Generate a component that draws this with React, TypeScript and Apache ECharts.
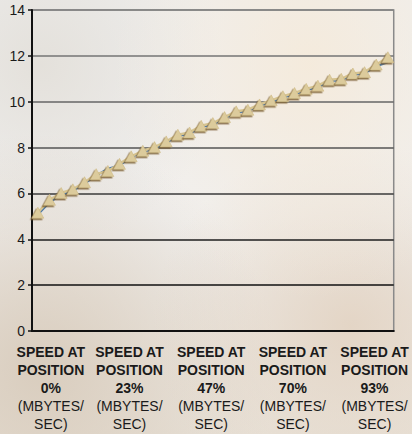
import React, { useEffect, useRef } from "react";
import * as echarts from "echarts";

const positions: string[] = [
  "0%", "3%", "7%", "10%", "13%", "17%", "20%", "23%", "27%", "30%", "33%",
  "37%", "40%", "43%", "47%", "50%", "53%", "57%", "60%", "63%", "67%",
  "70%", "73%", "77%", "80%", "83%", "87%", "90%", "93%", "97%", "100%",
];

const speedTan: number[] = [
  5.16, 5.72, 6.02, 6.18, 6.49, 6.84, 6.98, 7.29, 7.62, 7.86, 8.02,
  8.27, 8.56, 8.66, 8.95, 9.07, 9.33, 9.58, 9.65, 9.88, 10.06,
  10.24, 10.38, 10.56, 10.7, 10.96, 11.0, 11.23, 11.29, 11.62, 11.94,
];

const speedBlue: number[] = [
  5.08, 5.6, 5.96, 6.12, 6.42, 6.78, 7.08, 7.22, 7.58, 7.8, 7.96,
  8.2, 8.5, 8.6, 8.9, 9.0, 9.28, 9.52, 9.6, 9.82, 10.0,
  10.18, 10.32, 10.5, 10.64, 10.9, 10.94, 11.16, 11.24, 11.54, 11.72,
];

const yTicks = { min: 0, max: 14, interval: 2 };

const FONT = "Liberation Sans, Arial, sans-serif";

export default function App() {
  const ref = useRef<HTMLDivElement>(null);
  useEffect(() => {
    if (!ref.current) return;
    const chart = echarts.init(ref.current, null, { renderer: "svg" });
    const bold = { fontWeight: "bold", fontSize: 14, lineHeight: 18, color: "#1a1a1a", fontFamily: FONT };
    const norm = { fontSize: 14, lineHeight: 18, color: "#1a1a1a", fontFamily: FONT };
    chart.setOption({
      animation: false,
      textStyle: { fontFamily: FONT },
      grid: {
        left: 32,
        right: 15,
        top: 10,
        bottom: 103,
        show: true,
        borderColor: "#8a8a8a",
        borderWidth: 1.5,
        backgroundColor: "transparent",
      },
      xAxis: {
        type: "category",
        data: positions,
        boundaryGap: true,
        axisLine: { lineStyle: { color: "#111", width: 2 } },
        axisTick: { interval: 0, length: 4, lineStyle: { color: "#111", width: 1.5 } },
        axisLabel: {
          interval: 6,
          margin: 12,
          padding: [0, 0, 0, 20],
          color: "#1a1a1a",
          formatter: (v: string, idx: number) => {
            const b = idx === 0 ? "b0" : "b";
            const n = idx === 0 ? "n0" : "n";
            return `{${b}|SPEED AT}\n{${b}|POSITION}\n{${b}|${v}}\n{${n}|(MBYTES/}\n{${n}|SEC)}`;
          },
          rich: {
            b: bold,
            n: norm,
            b0: { ...bold, padding: [0, 0, 0, 6] },
            n0: { ...norm, padding: [0, 0, 0, 6] },
          },
        },
        splitLine: { show: false },
      },
      yAxis: {
        type: "value",
        min: yTicks.min,
        max: yTicks.max,
        interval: yTicks.interval,
        axisLine: { show: true, lineStyle: { color: "#111", width: 2 } },
        axisTick: { show: true, length: 4, lineStyle: { color: "#111", width: 1.5 } },
        axisLabel: { fontSize: 14, color: "#1a1a1a", margin: 7 },
        splitLine: {
          show: true,
          lineStyle: {
            width: 1.5,
            color: ["#111", "#111", "#1e1e1e", "#3a3a3a", "#555", "#666", "#747474", "#808080"],
          },
        },
      },
      series: [
        {
          type: "line",
          data: speedBlue,
          symbol: "none",
          lineStyle: { color: "#4a78a8", width: 2 },
          z: 2,
        },
        {
          type: "line",
          data: speedTan,
          symbol: "triangle",
          showSymbol: true,
          showAllSymbol: true,
          symbolSize: [12, 11],
          lineStyle: { color: "#d6c492", width: 2.5 },
          itemStyle: {
            color: "#dccb9c",
            borderColor: "#c9b27a",
            borderWidth: 0.5,
            shadowColor: "rgba(115,85,40,0.85)",
            shadowOffsetX: -1.5,
            shadowOffsetY: 1.5,
            shadowBlur: 0,
          },
          z: 3,
        },
      ],
    });
    return () => chart.dispose();
  }, []);

  const bg =
    "radial-gradient(ellipse at 75% 15%, rgba(245,234,218,0.9) 0%, rgba(245,234,218,0) 45%)," +
    "radial-gradient(ellipse at 85% 75%, rgba(225,208,190,0.8) 0%, rgba(225,208,190,0) 40%)," +
    "radial-gradient(ellipse at 10% 85%, rgba(215,202,186,0.9) 0%, rgba(215,202,186,0) 45%)," +
    "radial-gradient(ellipse at 10% 15%, rgba(225,221,214,0.8) 0%, rgba(225,221,214,0) 35%)," +
    "linear-gradient(180deg, #efefef 0%, #f1f0ef 50%, #e9e3da 100%)";

  return (
    <div style={{ position: "fixed", left: 0, top: 0, width: 412, height: 434, background: bg }}>
      <div ref={ref} style={{ width: 412, height: 434 }} />
    </div>
  );
}
